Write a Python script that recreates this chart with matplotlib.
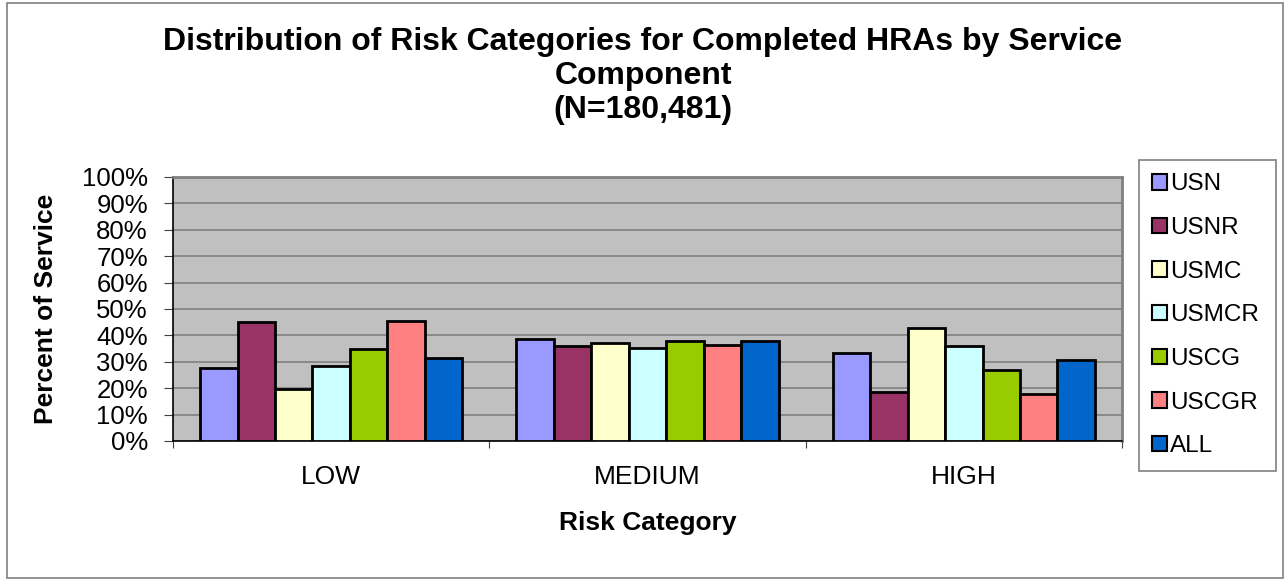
import matplotlib
matplotlib.use("Agg")
import matplotlib.pyplot as plt
from matplotlib.patches import Rectangle
import numpy as np

plt.rcParams['font.family'] = ['Liberation Sans', 'DejaVu Sans']

categories = ["LOW", "MEDIUM", "HIGH"]
series_names = ["USN", "USNR", "USMC", "USMCR", "USCG", "USCGR", "ALL"]
usn = [27.7, 38.6, 33.3]
usnr = [45.0, 35.8, 18.7]
usmc = [19.8, 37.2, 42.7]
usmcr = [28.5, 35.3, 35.9]
uscg = [34.8, 37.8, 27.0]
uscgr = [45.5, 36.2, 17.9]
all_ = [31.4, 37.7, 30.5]
series_values = [usn, usnr, usmc, usmcr, uscg, uscgr, all_]
colors = ["#9999FF", "#993366", "#FFFFCC", "#CCFFFF", "#99CC00", "#FF8080", "#0066CC"]
yticks = list(range(0, 101, 10))
ytick_labels = [f"{v}%" for v in yticks]

fig = plt.figure(figsize=(12.86, 5.81), dpi=100)
ax = fig.add_axes([0.1345, 0.2410, 0.8725 - 0.1345, 0.6954 - 0.2410])
ax.set_facecolor("#C0C0C0")

n = len(series_names)
bw = 0.1184
x = np.arange(len(categories))
for i, (name, vals, c) in enumerate(zip(series_names, series_values, colors)):
    offs = (i - (n - 1) / 2) * bw
    ax.bar(x + offs, vals, width=bw, color=c, edgecolor="black", linewidth=2, label=name, zorder=3)

ax.set_xlim(-0.5, len(categories) - 0.5)
ax.set_ylim(0, 100)
ax.set_yticks(yticks)
ax.set_yticklabels(ytick_labels, fontsize=18.5)
ax.yaxis.grid(True, color="#808080", linewidth=1.2, zorder=0)
ax.set_axisbelow(True)

ax.set_xticks(np.arange(-0.5, len(categories) + 0.5, 1.0))
ax.set_xticklabels([])
ax.set_xticks(x, minor=True)
ax.set_xticklabels(categories, minor=True, fontsize=19)
ax.tick_params(axis="x", which="minor", length=0, pad=17)
ax.tick_params(axis="x", which="major", length=5, color="#404040", direction="out")
ax.tick_params(axis="y", length=6.5, color="#404040", direction="out", pad=11.5)

for s in ["top", "right"]:
    ax.spines[s].set_color("#808080")
    ax.spines[s].set_linewidth(2)
ax.spines["left"].set_color("black")
ax.spines["left"].set_linewidth(1.2)
ax.spines["bottom"].set_color("black")
ax.spines["bottom"].set_linewidth(1.2)

ax.set_xlabel("Risk Category", fontsize=19, fontweight="bold", labelpad=16)
ax.set_ylabel("Percent of Service", fontsize=19, fontweight="bold", labelpad=17)

fig.text(0.5, 1 - 76 / 581, "Distribution of Risk Categories for Completed HRAs by Service\nComponent\n(N=180,481)",
         ha="center", va="center", fontsize=23, fontweight="bold", linespacing=1.18)

leg = fig.legend(handles=[Rectangle((0, 0), 1, 1, facecolor=c, edgecolor="black", linewidth=1.5) for c in colors],
                 labels=series_names, loc="upper left",
                 bbox_to_anchor=(1139 / 1286, 1 - 160 / 581, (1276 - 1139) / 1286, 0.0),
                 mode="expand", fontsize=17.5,
                 handlelength=0.6, handleheight=0.6, handletextpad=0.12,
                 labelspacing=0.89, borderpad=0.55, borderaxespad=0,
                 fancybox=False, frameon=True)
leg.get_frame().set_edgecolor("#606060")
leg.get_frame().set_linewidth(1.2)

fig.patches.append(Rectangle((7 / 1286, 3 / 581), 1 - 10 / 1286, 1 - 6 / 581, transform=fig.transFigure,
                             fill=False, edgecolor="#808080", linewidth=1.2))

fig.savefig("out.png", dpi=100)
